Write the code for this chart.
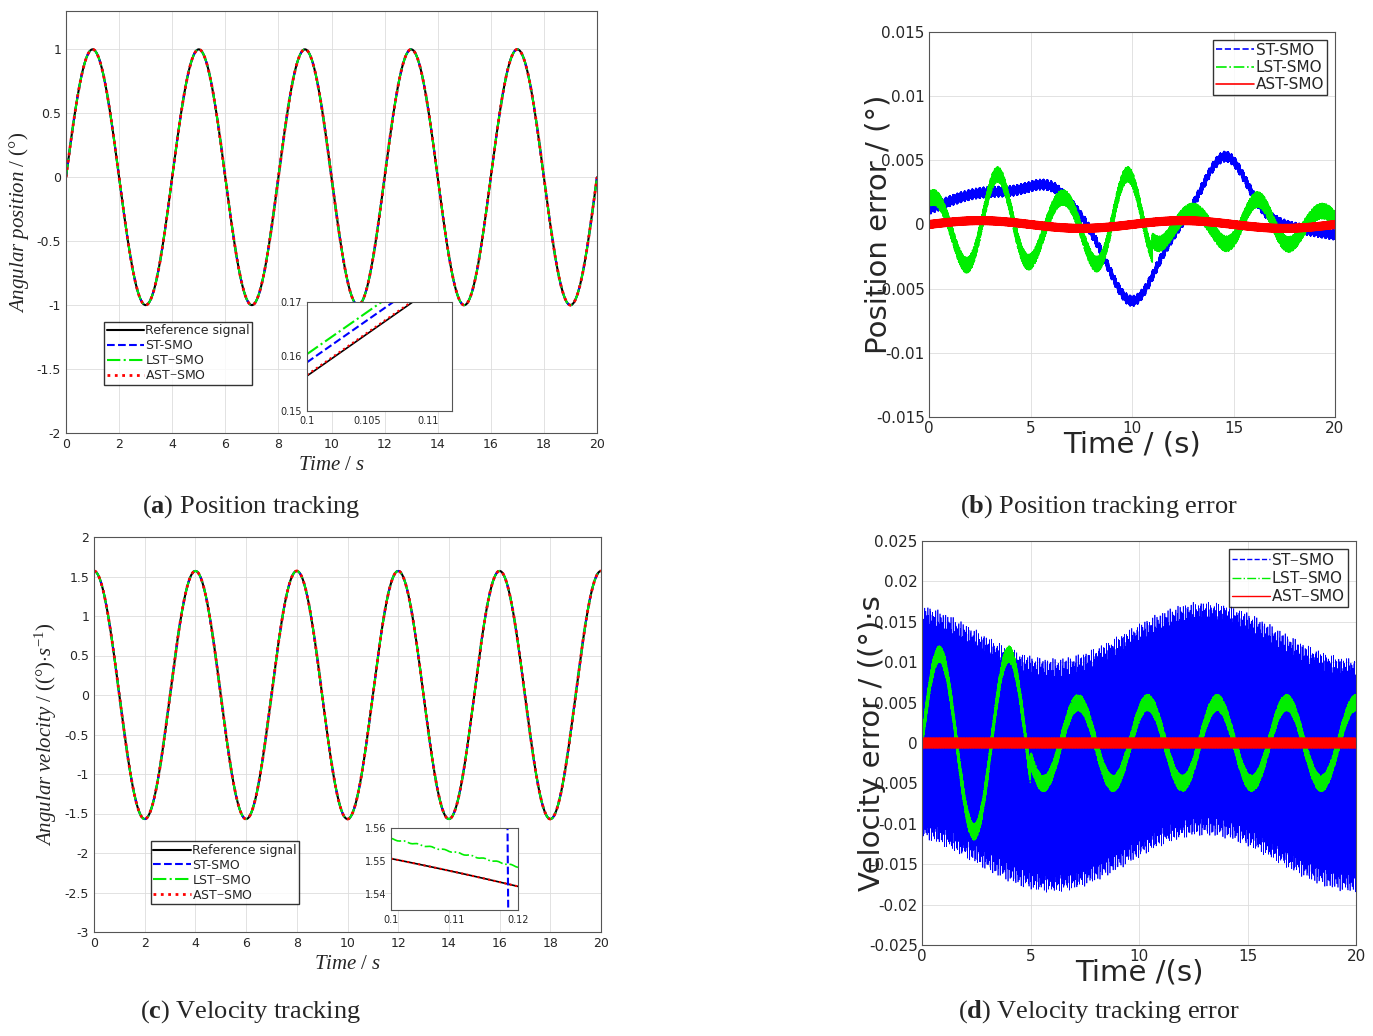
import numpy as np, pandas as pd, matplotlib
matplotlib.use("Agg")
import matplotlib.pyplot as plt, seaborn as sns
from matplotlib.ticker import FuncFormatter
sns.set_style("white")
plt.rcParams['font.family'] = ['DejaVu Sans']
plt.rcParams['axes.unicode_minus'] = False
plt.rcParams['mathtext.fontset'] = 'custom'
plt.rcParams['mathtext.rm'] = 'Liberation Serif'
plt.rcParams['mathtext.bf'] = 'Liberation Serif:bold'
plt.rcParams['mathtext.it'] = 'Liberation Serif:italic'
gfmt = FuncFormatter(lambda v, p: ("%g" % round(v, 6)))

# parameters
pos_amp = 1.0; vel_amp = 1.57; period = 4.0
series = ["ST-SMO", "LST-SMO", "AST-SMO"]
colors = {"Reference signal": "black", "ST-SMO": "#0000ff", "LST-SMO": "#00ee00", "AST-SMO": "#ff0000"}
st_pos_chatter = 0.0004
lst_pos_amps = [0.003, 0.0015]; lst_pos_period = 3.2
ast_pos_chatter = 0.0003
st_vel_center = 0.0035; st_vel_halfwidth = 0.013
lst_vel_amp = [0.011, 0.005]; lst_vel_period = 3.2
ast_vel_chatter = 0.0006

t = np.linspace(0, 20, 4001)
w = 2*np.pi/period
fig = plt.figure(figsize=(13.73, 10.36), dpi=100)
W, H = 1373, 1036
def ax_at(x0, y0, x1, y1):
    return fig.add_axes([x0/W, 1-y1/H, (x1-x0)/W, (y1-y0)/H])

def tracking(ax, y, ylim, yticks, ylabel, inset_rect, legend_loc):
    df = pd.DataFrame({"t": t, "y": y})
    ax.plot(t, y, color="black", lw=1.5, label="Reference signal")
    ax.plot(t, y, "--", color=colors["ST-SMO"], lw=1.5, label="ST-SMO")
    ax.plot(t, y, "-.", color=colors["LST-SMO"], lw=1.5, label="LST$-$SMO")
    sns.lineplot(data=df, x="t", y="y", ax=ax, color="red", lw=2, linestyle=":", label="AST$-$SMO")
    ax.set_xlim(0, 20); ax.set_ylim(*ylim); ax.set_yticks(yticks)
    ax.set_xticks(range(0, 21, 2))
    ax.xaxis.set_major_formatter(gfmt); ax.yaxis.set_major_formatter(gfmt)
    ax.tick_params(labelsize=9, direction="in", length=3)
    ax.grid(True, color="#dddddd", lw=0.6)
    ax.set_xlabel(r"$\it{Time\ /\ s}$", fontsize=15, labelpad=2)
    ax.set_ylabel(ylabel, fontsize=15)
    ax.legend(loc="lower left", bbox_to_anchor=legend_loc, fontsize=9, frameon=True, fancybox=False,
              edgecolor="black", borderpad=0.2, labelspacing=0.15, handlelength=3, handletextpad=0.1)
    for s in ax.spines.values(): s.set_color("#555555")
    ia = ax_at(*inset_rect)
    for s in ia.spines.values(): s.set_color("#555555")
    return ia

# (a)
axa = ax_at(66, 11, 597, 433)
ia = tracking(axa, pos_amp*np.sin(w*t), (-2, 1.3), [-2, -1.5, -1, -0.5, 0, 0.5, 1],
              r"$\it{Angular\ position\ /\ (°)}$", (307, 302, 452, 411), (0.06, 0.1))
ti = np.linspace(0.1, 0.112, 50)
ref = pos_amp*np.sin(w*ti)
ia.plot(ti, ref, color="black", lw=1.2)
ia.plot(ti, ref+0.0025, "--", color="blue", lw=1.5)
ia.plot(ti, ref+0.004, "-.", color="#00ee00", lw=1.5)
ia.plot(ti, ref+0.0002, ":", color="red", lw=1.5)
ia.set_xlim(0.1, 0.112); ia.set_ylim(0.15, 0.17)
ia.set_xticks([0.1, 0.105, 0.11]); ia.set_yticks([0.15, 0.16, 0.17])
ia.xaxis.set_major_formatter(gfmt); ia.yaxis.set_major_formatter(gfmt)
ia.tick_params(labelsize=7, direction="in", length=2)

# (c)
axc = ax_at(94, 537, 601, 932)
ic = tracking(axc, vel_amp*np.cos(w*t), (-3, 2), np.arange(-3, 2.01, 0.5),
              r"$\it{Angular\ velocity\ /\ ((°){\cdot}s^{-1})}$", (391, 828, 518, 910), (0.1, 0.055))
ti = np.linspace(0.1, 0.12, 60)
ref = vel_amp*np.cos(w*ti)
st = np.where(ti < 0.1185, 1.57, ref - 0.05)
ic.plot(ti, ref, color="black", lw=1.2)
ic.plot(ti, st, "--", color="blue", lw=1.5)
ic.plot(ti, ref+0.006 - 0.0002*np.sin(ti*3000), "-.", color="#00ee00", lw=1.2)
ic.plot(ti, ref, ":", color="red", lw=1.5)
ic.set_xlim(0.1, 0.12); ic.set_ylim(1.535, 1.56)
ic.set_xticks([0.1, 0.11, 0.12]); ic.set_yticks([1.54, 1.55, 1.56])
ic.xaxis.set_major_formatter(gfmt); ic.yaxis.set_major_formatter(gfmt)
ic.tick_params(labelsize=7, direction="in", length=2)

def err_axes(ax, ylim, yticks, ylabel, xlabel):
    ax.set_xlim(0, 20); ax.set_ylim(*ylim); ax.set_yticks(yticks)
    ax.set_xticks([0, 5, 10, 15, 20])
    ax.xaxis.set_major_formatter(gfmt); ax.yaxis.set_major_formatter(gfmt)
    ax.tick_params(labelsize=11, direction="in", length=3, pad=3)
    ax.grid(True, color="#dddddd", lw=0.6)
    ax.set_ylabel(ylabel, fontsize=21, labelpad=-12)
    ax.set_xlabel(xlabel, fontsize=21, labelpad=-4)
    ax.legend(loc="upper right", fontsize=11, frameon=True, fancybox=False, edgecolor="black",
              borderpad=0.2, labelspacing=0.15, handlelength=2.5, handletextpad=0.1)
    for s in ax.spines.values(): s.set_color("#555555")

# (b)
axb = ax_at(929, 32, 1335, 417)
st_b = (0.0025*np.exp(-((t-3)/3.5)**2) - 0.006*np.exp(-((t-10)/1.6)**2) + 0.0053*np.exp(-((t-14.6)/1.5)**2)
        + 0.0018*np.exp(-((t-6)/1.5)**2) - 0.0008*np.clip(t-17, 0, 3)/3 + st_pos_chatter*np.sin(2*np.pi*t*97.3))
env = np.where(t < 11, lst_pos_amps[0], lst_pos_amps[1]) * (1 - 0.3*np.cos(2*np.pi*t/6.5))
lst_b = env*np.sin(2*np.pi*t/lst_pos_period + 1.2) + 0.0006*np.sin(2*np.pi*t*83.1)
ast_b = 0.0003*np.sin(2*np.pi*t/10) + ast_pos_chatter*np.sin(2*np.pi*t*91.7)
axb.plot(t, st_b, "--", color="blue", lw=1.2, label="ST-SMO")
axb.plot(t, lst_b, "-.", color="#00ee00", lw=1.2, label="LST-SMO")
sns.lineplot(x=t, y=ast_b, ax=axb, color="red", lw=1.2, label="AST-SMO")
err_axes(axb, (-0.015, 0.015), np.arange(-0.015, 0.0151, 0.005), "Position error / (°)", "Time / (s)")

# (d)
axd = ax_at(922, 541, 1356, 945)
td = np.linspace(0, 20, 8001)
center = st_vel_center*np.sin(2*np.pi*(td-9.5)/14) - 0.0005
st_d = center + st_vel_halfwidth*np.sin(2*np.pi*td*41.3) + 0.0015*np.sin(2*np.pi*td*173.7)
envd = np.where(td < 5, lst_vel_amp[0], lst_vel_amp[1])
lst_d = envd*np.sin(2*np.pi*td/lst_vel_period) + 0.001*np.sin(2*np.pi*td*83.1)
ast_d = ast_vel_chatter*np.sin(2*np.pi*td*91.7)
axd.plot(td, st_d, color="blue", lw=0.5, label="ST$-$SMO")
axd.plot(td, lst_d, "-.", color="#00ee00", lw=1.0, label="LST$-$SMO")
axd.plot(td, ast_d, color="red", lw=1.0, label="AST$-$SMO")
err_axes(axd, (-0.025, 0.025), np.arange(-0.025, 0.0251, 0.005), "Velocity error / ((°)·s", "Time /(s)")
axd.get_legend().legend_handles[0].set_linestyle("--")
axd.get_legend().legend_handles[0].set_linewidth(1.0)

caps = [(251, 507, "a", "Position tracking"), (1099, 507, "b", "Position tracking error"),
        (251, 1012, "c", "Velocity tracking"), (1099, 1012, "d", "Velocity tracking error")]
for x, y, l, s in caps:
    fig.text(x/W, 1-y/H, "(" + r"$\bf{" + l + "}$" + ") " + s, ha="center", va="center",
             fontsize=19, family="Liberation Serif")
fig.savefig("out.png", dpi=100)
